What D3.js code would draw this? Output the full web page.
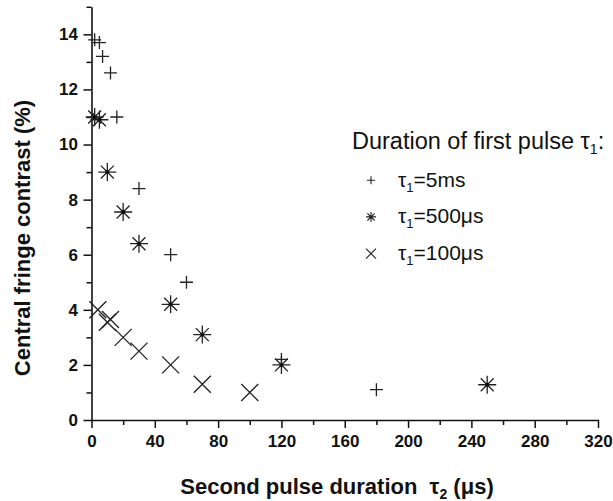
<!DOCTYPE html>
<html>
<head>
<meta charset="utf-8">
<script src="https://cdn.jsdelivr.net/npm/d3@7"></script>
<style>
  body { margin: 0; background: #fff; }
  svg text { font-family: "Liberation Sans", Arial, sans-serif; fill: #111; }
</style>
</head>
<body>
<div id="chart"></div>
<script>
// data: second pulse duration (us) vs central fringe contrast (%)
const tau5msX = [2, 5, 7, 12, 16, 30, 50, 60, 120, 180];
const tau5msY = [13.8, 13.7, 13.2, 12.6, 11.0, 8.4, 6.0, 5.0, 2.2, 1.1];

const tau500X = [2, 5, 10, 20, 30, 50, 70, 120, 250];
const tau500Y = [11.0, 10.9, 9.0, 7.55, 6.4, 4.2, 3.1, 2.0, 1.28];

const tau100X = [4, 10, 12, 20, 30, 50, 70, 100];
const tau100Y = [4.0, 3.55, 3.65, 3.0, 2.5, 2.0, 1.3, 1.0];

const xTicks = [0, 40, 80, 120, 160, 200, 240, 280, 320];
const yTicks = [0, 2, 4, 6, 8, 10, 12, 14];

const seriesNames = ["5ms", "500\u03bcs", "100\u03bcs"];
const seriesShapes = ["plus", "star", "cross"];

const W = 613, H = 501;
const padL = 91.5, padR = 598, padT = 6.8, padB = 420;

const svg = d3.select("#chart").append("svg")
  .attr("width", W).attr("height", H);

const x = d3.scaleLinear().domain([0, 320]).range([padL, padR]);
const y = d3.scaleLinear().domain([0, 15]).range([padB, padT]);

// minor ticks first, then major axes on top
svg.append("g")
  .attr("transform", "translate(0," + padB + ")")
  .call(d3.axisBottom(x).tickValues(d3.range(20, 320, 40)).tickSize(5).tickFormat("").tickSizeOuter(0))
  .call(g => g.select(".domain").remove());
svg.append("g")
  .attr("transform", "translate(" + padL + ",0)")
  .call(d3.axisLeft(y).tickValues(d3.range(1, 16, 2)).tickSize(5).tickFormat("").tickSizeOuter(0))
  .call(g => g.select(".domain").remove());

svg.append("g")
  .attr("transform", "translate(0," + padB + ")")
  .call(d3.axisBottom(x).tickValues(xTicks).tickSize(8).tickPadding(7).tickSizeOuter(0));
svg.append("g")
  .attr("transform", "translate(" + padL + ",0)")
  .call(d3.axisLeft(y).tickValues(yTicks).tickSize(8).tickPadding(5.5).tickSizeOuter(0));

svg.selectAll(".tick line").attr("stroke", "#111").attr("stroke-width", 1.5);
svg.selectAll(".domain").attr("stroke", "#111").attr("stroke-width", 1.6);
svg.selectAll(".tick text")
  .style("font-size", "17px").style("font-weight", "bold")
  .style("font-family", "'Liberation Sans', Arial, sans-serif").attr("fill", "#111");

// marker paths
function markerPath(shape, r) {
  const p = d3.path();
  if (shape === "plus") {
    p.moveTo(-r, 0); p.lineTo(r, 0);
    p.moveTo(0, -r); p.lineTo(0, r);
  } else if (shape === "cross") {
    p.moveTo(-r, -r); p.lineTo(r, r);
    p.moveTo(-r, r); p.lineTo(r, -r);
  } else {
    const d = r * 0.72;
    p.moveTo(-r, 0); p.lineTo(r, 0);
    p.moveTo(0, -r); p.lineTo(0, r);
    p.moveTo(-d, -d); p.lineTo(d, d);
    p.moveTo(-d, d); p.lineTo(d, -d);
  }
  return p.toString();
}

const series = [
  { xs: tau5msX, ys: tau5msY, shape: "plus", r: 6.5 },
  { xs: tau500X, ys: tau500Y, shape: "star", r: 9 },
  { xs: tau100X, ys: tau100Y, shape: "cross", r: 8.5 }
];

series.forEach(s => {
  const pts = s.xs.map((v, i) => [v, s.ys[i]]);
  const g = svg.append("g").selectAll("g").data(pts).enter().append("g")
    .attr("transform", d => "translate(" + x(d[0]) + "," + y(d[1]) + ")");
  g.append("path")
    .attr("d", markerPath(s.shape, s.r))
    .attr("stroke", "#222").attr("stroke-width", 1.3).attr("fill", "none");
  if (s.shape === "star") {
    g.append("circle").attr("r", 2).attr("fill", "#111");
  }
});

// legend
const legend = svg.append("g");
const title = legend.append("text")
  .attr("x", 352).attr("y", 149)
  .style("font-size", "23.5px");
title.append("tspan").text("Duration of first pulse \u03c4");
title.append("tspan").attr("dy", 5).style("font-size", "14px").text("1");
title.append("tspan").attr("dy", -5).text(":");

const legendRows = [0, 1, 2];
legendRows.forEach(i => {
  const yy = 186.7 + i * 36.7;
  legend.append("path")
    .attr("transform", "translate(371," + (yy - 6.5) + ")")
    .attr("d", markerPath(seriesShapes[i], i === 0 ? 4 : 5))
    .attr("stroke", "#222").attr("stroke-width", 1.1).attr("fill", "none");
  const t = legend.append("text").attr("x", 398).attr("y", yy)
    .style("font-size", "21px");
  t.append("tspan").text("\u03c4");
  t.append("tspan").attr("dy", 5).style("font-size", "13px").text("1");
  t.append("tspan").attr("dy", -5).text("=" + seriesNames[i]);
});

// axis titles
const xl = svg.append("text")
  .attr("x", 337).attr("y", 494)
  .attr("text-anchor", "middle")
  .style("white-space", "pre")
  .style("font-size", "22px").style("font-weight", "bold");
xl.append("tspan").text("Second pulse duration  \u03c4");
xl.append("tspan").attr("dy", 5).style("font-size", "14px").text("2");
xl.append("tspan").attr("dy", -5).text(" (\u03bcs)");

svg.append("text")
  .attr("transform", "translate(30,238) rotate(-90)")
  .attr("text-anchor", "middle")
  .style("font-size", "22px").style("font-weight", "bold")
  .text("Central fringe contrast (%)");
</script>
</body>
</html>
